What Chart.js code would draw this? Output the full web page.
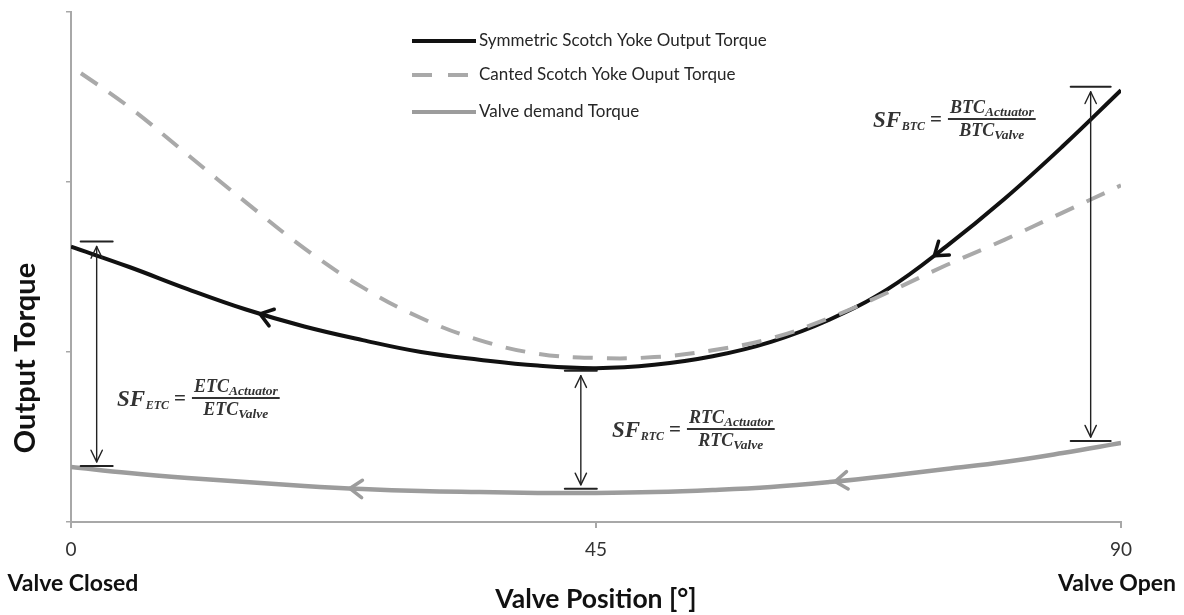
<!DOCTYPE html>
<html>
<head>
<meta charset="utf-8">
<script src="https://cdn.jsdelivr.net/npm/chart.js@4.4.1/dist/chart.umd.min.js"></script>
<style>
  html, body { margin: 0; padding: 0; background: #fff; }
  canvas { display: block; }
</style>
</head>
<body>
<canvas id="c" width="1184" height="615"></canvas>
<script>
// ---- data (valve position in degrees, torque in relative units) ----
const positions = [0, 5, 10, 15, 20, 25, 30, 35, 40, 45, 50, 55, 60, 65, 70, 75, 80, 85, 90];
const symmetricTorque = [1.62, 1.50, 1.37, 1.25, 1.15, 1.07, 1.00, 0.955, 0.92, 0.905, 0.925, 0.975, 1.06, 1.19, 1.37, 1.62, 1.90, 2.21, 2.54];
const cantedTorque    = [2.68, 2.44, 2.16, 1.88, 1.61, 1.38, 1.20, 1.07, 0.99, 0.965, 0.97, 1.01, 1.08, 1.20, 1.35, 1.51, 1.66, 1.82, 1.98];
const valveTorque     = [0.324, 0.288, 0.259, 0.235, 0.212, 0.194, 0.182, 0.176, 0.171, 0.171, 0.176, 0.188, 0.206, 0.235, 0.271, 0.312, 0.353, 0.406, 0.465];
const xTicks = [0, 45, 90];
const xEndLabels = ['Valve Closed', '', 'Valve Open'];
const seriesNames = ['Symmetric Scotch Yoke Output Torque', 'Canted Scotch Yoke Ouput Torque', 'Valve demand Torque'];
// safety-factor markers: position, actuator level, valve level, subscript
const sfPositions = [2.2, 43.7, 87.4];
const sfTop       = [1.65, 0.89, 2.56];
const sfBottom    = [0.33, 0.195, 0.476];
const sfNames     = ['ETC', 'RTC', 'BTC'];
// direction arrows along curves (positions in degrees)
const symArrowPos = [16.2, 74];
const valveArrowPos = [23.9, 65.5];

const COLORS = { sym: '#111111', canted: '#a9a9a9', valve: '#9c9c9c', axis: '#a8a8a8', text: '#262626' };

function pts(vals) { return positions.map((p, i) => ({ x: p, y: vals[i] })); }

function pointOnCurve(chart, dsIndex, xVal) {
  const meta = chart.getDatasetMeta(dsIndex);
  const els = meta.data;
  const px = chart.scales.x.getPixelForValue(xVal);
  for (let i = 0; i < els.length - 1; i++) {
    const a = els[i], b = els[i + 1];
    if (px >= a.x && px <= b.x) {
      const P0 = [a.x, a.y], P1 = [a.cp2x ?? a.x, a.cp2y ?? a.y], P2 = [b.cp1x ?? b.x, b.cp1y ?? b.y], P3 = [b.x, b.y];
      const bz = (t, k) => { const u = 1 - t; return u*u*u*P0[k] + 3*u*u*t*P1[k] + 3*u*t*t*P2[k] + t*t*t*P3[k]; };
      const dbz = (t, k) => { const u = 1 - t; return 3*u*u*(P1[k]-P0[k]) + 6*u*t*(P2[k]-P1[k]) + 3*t*t*(P3[k]-P2[k]); };
      let lo = 0, hi = 1;
      for (let n = 0; n < 40; n++) { const m = (lo + hi) / 2; if (bz(m, 0) < px) lo = m; else hi = m; }
      const t = (lo + hi) / 2;
      return { x: bz(t, 0), y: bz(t, 1), dx: dbz(t, 0), dy: dbz(t, 1) };
    }
  }
  return null;
}

function chevron(ctx, tipX, tipY, ang, len, spread) {
  ctx.beginPath();
  ctx.moveTo(tipX + len * Math.cos(ang + Math.PI - spread), tipY + len * Math.sin(ang + Math.PI - spread));
  ctx.lineTo(tipX, tipY);
  ctx.lineTo(tipX + len * Math.cos(ang + Math.PI + spread), tipY + len * Math.sin(ang + Math.PI + spread));
  ctx.stroke();
}

const FONT_SERIF = '"Liberation Serif", "DejaVu Serif", serif';
function drawFormula(ctx, left, base, sub) {
  const big = 'italic bold 23px ' + FONT_SERIF;
  const bigSub = 'italic bold 12px ' + FONT_SERIF;
  const mid = 'italic bold 18px ' + FONT_SERIF;
  const small = 'italic bold 13.5px ' + FONT_SERIF;
  const w = (f, s) => { ctx.font = f; return ctx.measureText(s).width; };
  ctx.save();
  ctx.fillStyle = '#333';
  ctx.strokeStyle = '#333';
  ctx.textAlign = 'left';
  ctx.textBaseline = 'alphabetic';
  let x = left;
  ctx.font = big; ctx.fillText('SF', x, base); x += w(big, 'SF') + 0.5;
  ctx.font = bigSub; ctx.fillText(sub, x, base + 3); x += w(bigSub, sub) + 5;
  const eqF = 'bold 21px ' + FONT_SERIF;
  ctx.font = eqF; ctx.fillText('=', x, base - 1); x += w(eqF, '=') + 6;
  const numW = w(mid, sub) + w(small, 'Actuator');
  const denW = w(mid, sub) + w(small, 'Valve');
  const fw = Math.max(numW, denW) + 4;
  ctx.lineWidth = 2;
  ctx.beginPath(); ctx.moveTo(x, base - 8); ctx.lineTo(x + fw, base - 8); ctx.stroke();
  let nx = x + (fw - numW) / 2;
  ctx.font = mid; ctx.fillText(sub, nx, base - 14); nx += w(mid, sub);
  ctx.font = small; ctx.fillText('Actuator', nx, base - 11);
  let dx = x + (fw - denW) / 2;
  ctx.font = mid; ctx.fillText(sub, dx, base + 9); dx += w(mid, sub);
  ctx.font = small; ctx.fillText('Valve', dx, base + 12);
  ctx.restore();
}

const overlay = {
  id: 'overlay',
  afterDatasetsDraw(chart) {
    const { ctx, scales: { x, y }, chartArea } = chart;
    ctx.save();
    ctx.lineCap = 'round';
    ctx.lineJoin = 'round';
    const arrowSets = [[0, symArrowPos, COLORS.sym, 3.5], [2, valveArrowPos, COLORS.valve, 3.5]];
    arrowSets.forEach(([ds, list, col, lw]) => {
      list.forEach(p => {
        const q = pointOnCurve(chart, ds, p);
        if (!q) return;
        const ang = Math.atan2(-q.dy, -q.dx);
        ctx.strokeStyle = col; ctx.lineWidth = lw;
        chevron(ctx, q.x, q.y, ang, 15, 0.62);
      });
    });
    ctx.strokeStyle = '#222';
    sfPositions.forEach((p, i) => {
      const mx = x.getPixelForValue(p);
      const yt = y.getPixelForValue(sfTop[i]);
      const yb = y.getPixelForValue(sfBottom[i]);
      const half = i === 2 ? 20 : 16;
      ctx.lineWidth = 2;
      ctx.beginPath(); ctx.moveTo(mx - half, yt); ctx.lineTo(mx + half, yt); ctx.stroke();
      ctx.beginPath(); ctx.moveTo(mx - half, yb); ctx.lineTo(mx + half, yb); ctx.stroke();
      const t1 = yt + 5, t2 = yb - 4;
      ctx.lineWidth = 1.4;
      ctx.beginPath(); ctx.moveTo(mx, t1); ctx.lineTo(mx, t2); ctx.stroke();
      chevron(ctx, mx, t1, -Math.PI / 2, 13, 0.45);
      chevron(ctx, mx, t2, Math.PI / 2, 13, 0.45);
    });
    ctx.restore();

    drawFormula(ctx, 873, 127, sfNames[2]);
    drawFormula(ctx, 117, 406, sfNames[0]);
    drawFormula(ctx, 612, 437, sfNames[1]);

    // legend
    ctx.save();
    const legY = [41, 75, 112];
    const legStyles = [
      { c: COLORS.sym, dash: [], w: 4 },
      { c: COLORS.canted, dash: [20, 16], w: 4 },
      { c: COLORS.valve, dash: [], w: 4 }
    ];
    legStyles.forEach((s, i) => {
      ctx.strokeStyle = s.c; ctx.lineWidth = s.w; ctx.setLineDash(s.dash); ctx.lineCap = 'butt';
      ctx.beginPath(); ctx.moveTo(412, legY[i]); ctx.lineTo(476, legY[i]); ctx.stroke();
      ctx.setLineDash([]);
      ctx.fillStyle = COLORS.text;
      ctx.font = '17px Lato';
      ctx.textAlign = 'left'; ctx.textBaseline = 'middle';
      ctx.fillText(seriesNames[i], 479, legY[i]);
    });
    ctx.restore();

    // axis titles and end labels
    ctx.save();
    ctx.fillStyle = '#111';
    ctx.font = 'bold 23px Lato';
    ctx.textAlign = 'center'; ctx.textBaseline = 'middle';
    xTicks.forEach((t, i) => {
      if (xEndLabels[i]) ctx.fillText(xEndLabels[i], x.getPixelForValue(t) + (i === 0 ? 2 : -4), 584);
    });
    ctx.font = 'bold 26.5px Lato';
    ctx.fillText('Valve Position [°]', (chartArea.left + chartArea.right) / 2, 599);
    ctx.translate(26, 358);
    ctx.rotate(-Math.PI / 2);
    ctx.font = 'bold 29px Lato';
    ctx.fillText('Output Torque', 0, 0);
    ctx.restore();
  }
};

new Chart(document.getElementById('c'), {
  type: 'line',
  data: {
    datasets: [
      { label: seriesNames[0], data: pts(symmetricTorque), borderColor: COLORS.sym, borderWidth: 4, order: 1 },
      { label: seriesNames[1], data: pts(cantedTorque), borderColor: COLORS.canted, borderWidth: 4, borderDash: [20, 14], borderDashOffset: 22, order: 0 },
      { label: seriesNames[2], data: pts(valveTorque), borderColor: COLORS.valve, borderWidth: 4.5, order: 2 }
    ]
  },
  options: {
    responsive: false,
    animation: false,
    events: [],
    layout: { padding: { left: 61, right: 63, top: 12, bottom: 53 } },
    elements: { point: { radius: 0 }, line: { tension: 0.4, borderCapStyle: 'butt' } },
    plugins: { legend: { display: false }, tooltip: { enabled: false } },
    scales: {
      x: {
        type: 'linear', min: 0, max: 90,
        afterBuildTicks(s) { s.ticks = xTicks.map(v => ({ value: v })); },
        ticks: { font: { family: 'Lato', size: 19 }, color: '#333', padding: 10, maxRotation: 0, autoSkip: false },
        grid: { drawOnChartArea: false, drawTicks: true, tickLength: 6, color: COLORS.axis, lineWidth: 2 },
        border: { color: COLORS.axis, width: 2 },
        afterFit(s) { s.height = 40; }
      },
      y: {
        min: 0, max: 3,
        ticks: { stepSize: 1, display: false },
        grid: { drawOnChartArea: false, drawTicks: true, tickLength: 5, color: COLORS.axis, lineWidth: 1.5 },
        border: { color: COLORS.axis, width: 2 },
        afterFit(s) { s.width = 10; }
      }
    }
  },
  plugins: [overlay]
});
</script>
</body>
</html>
